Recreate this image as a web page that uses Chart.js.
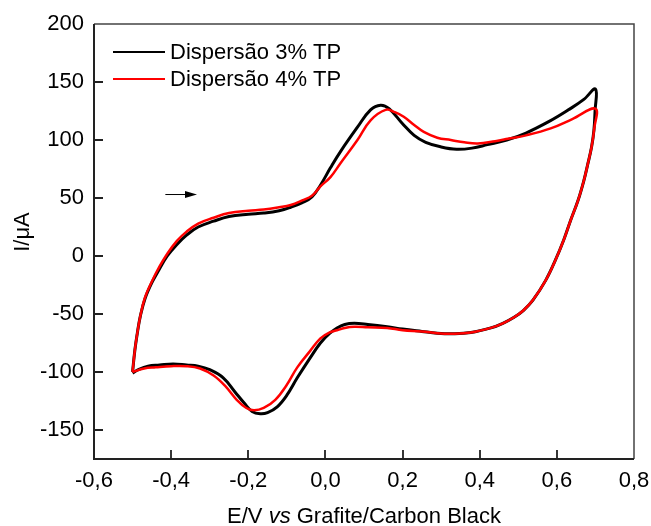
<!DOCTYPE html>
<html><head><meta charset="utf-8">
<script src="https://cdn.jsdelivr.net/npm/chart.js@4.4.0/dist/chart.umd.min.js"></script>
<style>html,body{margin:0;padding:0;background:#fff;}#wrap{width:651px;height:526px;}</style>
</head><body><div id="wrap"><canvas id="c" width="651" height="526"></canvas></div>
<script>
// Dispersão 3% TP (black): anodic sweep then cathodic sweep
const tp3Potential = [-0.5,-0.494,-0.487,-0.48,-0.468,-0.45,-0.43,-0.41,-0.385,-0.36,-0.33,-0.29,-0.25,-0.2,-0.16,-0.12,-0.09,-0.06,-0.035,-0.013,0.013,0.039,0.083,0.117,0.143,0.165,0.2,0.23,0.26,0.3,0.34,0.38,0.42,0.47,0.52,0.58,0.63,0.67,0.7,
  0.699,0.696,0.69,0.68,0.67,0.655,0.636,0.618,0.597,0.571,0.538,0.513,0.488,0.46,0.429,0.377,0.33,0.29,0.25,0.2,0.16,0.11,0.075,0.05,0.03,0.01,-0.013,-0.04,-0.073,-0.1,-0.125,-0.15,-0.169,-0.19,-0.21,-0.235,-0.265,-0.3,-0.33,-0.36,-0.395,-0.43,-0.46,-0.485,-0.5];
const tp3Current = [-100,-81,-65,-52,-37,-23,-11,0,10,18,25,30,34,36,37,39,42,46,51,61,76,90,111,126,130,127,114,104,98,94,92,93,96,100,106,116,126,135,144,
  125,108,94,79,65,48,31,14,-3,-21,-38,-47,-53,-58,-62,-66,-67,-66.5,-65,-63,-61,-59,-58,-59,-62,-67,-75,-88,-105,-120,-130,-135,-136,-134,-127,-117,-105,-98,-95,-94,-93,-94,-95,-98,-101];
// Dispersão 4% TP (red)
const tp4Potential = [-0.5,-0.494,-0.487,-0.48,-0.468,-0.45,-0.43,-0.41,-0.385,-0.36,-0.33,-0.29,-0.25,-0.2,-0.16,-0.12,-0.09,-0.06,-0.035,-0.013,0.013,0.039,0.083,0.117,0.156,0.18,0.203,0.23,0.255,0.29,0.325,0.36,0.395,0.44,0.473,0.52,0.584,0.64,0.7,
  0.697,0.69,0.68,0.67,0.655,0.636,0.618,0.597,0.571,0.538,0.513,0.488,0.46,0.429,0.377,0.33,0.29,0.25,0.2,0.16,0.11,0.075,0.05,0.03,0.01,-0.013,-0.04,-0.073,-0.1,-0.13,-0.16,-0.185,-0.205,-0.23,-0.26,-0.29,-0.325,-0.36,-0.4,-0.44,-0.47,-0.5];
const tp4Current = [-100,-81,-65,-52,-36,-22,-9,2,13,21,28,33,37,39,40,42,44,48,52,60,68,80,100,117,126,124,120,113,107,102,100,98,97,99,101,104,110,118,127,
  110,94,79,65,48,31,14,-3,-21,-38,-47,-53,-58,-62,-66,-67,-66.5,-65,-64,-62,-61.5,-61,-62,-64,-66,-71,-82,-96,-111,-124,-131,-133,-131,-124,-112,-103,-97,-95,-95,-96,-97,-100];

const seriesLabels = ['Dispersão 3% TP', 'Dispersão 4% TP'];
const seriesColors = ['#000000', '#ff0000'];
const xTickValues = [-0.6,-0.4,-0.2,0,0.2,0.4,0.6,0.8];
const yTickValues = [-150,-100,-50,0,50,100,150,200];
const xAxisTitle = [['E/V ', 'normal'], ['vs', 'italic'], [' Grafite/Carbon Black', 'normal']];
const yAxisTitle = 'I/μA';
const scanArrow = [[-0.415, 53], [-0.333, 53]];

const FONT = '"Liberation Sans", Arial, sans-serif';
const toPts = (xs, ys) => xs.map((x, i) => ({x: x, y: ys[i]}));

const decorPlugin = {
  id: 'decor',
  afterDraw(chart) {
    const ctx = chart.ctx, a = chart.chartArea;
    const xs = chart.scales.x, ys = chart.scales.y;
    ctx.save();
    // frame
    ctx.strokeStyle = '#444'; ctx.lineWidth = 1.5;
    ctx.beginPath();
    ctx.moveTo(a.left, a.top); ctx.lineTo(a.right, a.top); ctx.lineTo(a.right, a.bottom);
    ctx.stroke();
    ctx.strokeStyle = '#222'; ctx.lineWidth = 2;
    ctx.beginPath();
    ctx.moveTo(a.left, a.top); ctx.lineTo(a.left, a.bottom); ctx.lineTo(a.right, a.bottom);
    ctx.stroke();
    // inward ticks
    ctx.lineWidth = 1.8;
    ctx.beginPath();
    xs.ticks.forEach(t => {
      const px = Math.round(xs.getPixelForValue(t.value));
      if (px > a.left + 2 && px < a.right - 2) { ctx.moveTo(px, a.bottom); ctx.lineTo(px, a.bottom - 9); }
    });
    ys.ticks.forEach(t => {
      const py = Math.round(ys.getPixelForValue(t.value));
      if (py > a.top + 2 && py < a.bottom - 2) { ctx.moveTo(a.left, py); ctx.lineTo(a.left + 9, py); }
    });
    ctx.stroke();
    // scan arrow
    const ax0 = xs.getPixelForValue(scanArrow[0][0]), ay0 = ys.getPixelForValue(scanArrow[0][1]);
    const ax1 = xs.getPixelForValue(scanArrow[1][0]), ay1 = ys.getPixelForValue(scanArrow[1][1]);
    ctx.strokeStyle = '#000'; ctx.fillStyle = '#000'; ctx.lineWidth = 1;
    ctx.beginPath(); ctx.moveTo(ax0, ay0); ctx.lineTo(ax1 - 8, ay1); ctx.stroke();
    ctx.beginPath(); ctx.moveTo(ax1, ay1); ctx.lineTo(ax1 - 12, ay1 - 3.5); ctx.lineTo(ax1 - 12, ay1 + 3.5); ctx.closePath(); ctx.fill();
    // legend
    ctx.font = '22px ' + FONT; ctx.textBaseline = 'middle'; ctx.textAlign = 'left';
    chart.data.datasets.forEach((ds, i) => {
      const y = 52 + i * 27;
      ctx.strokeStyle = ds.borderColor; ctx.lineWidth = 2;
      ctx.beginPath(); ctx.moveTo(113, y); ctx.lineTo(165, y); ctx.stroke();
      ctx.fillStyle = '#000';
      ctx.fillText(ds.label, 170, y + 1);
    });
    // x axis title with italic "vs"
    let total = 0;
    const parts = xAxisTitle.map(([txt, st]) => {
      ctx.font = (st === 'italic' ? 'italic ' : '') + '22px ' + FONT;
      const w = ctx.measureText(txt).width; total += w; return [txt, st, w];
    });
    let cx = (a.left + a.right) / 2 - total / 2;
    ctx.textBaseline = 'alphabetic'; ctx.fillStyle = '#000';
    parts.forEach(([txt, st, w]) => {
      ctx.font = (st === 'italic' ? 'italic ' : '') + '22px ' + FONT;
      ctx.fillText(txt, cx, 523); cx += w;
    });
    // y axis title
    ctx.font = '22px ' + FONT; ctx.textAlign = 'center';
    ctx.translate(29, 232); ctx.rotate(-Math.PI / 2);
    ctx.fillText(yAxisTitle, 0, 0);
    ctx.restore();
  }
};

const tickFont = {family: FONT, size: 22};
new Chart(document.getElementById('c'), {
  type: 'scatter',
  data: {
    datasets: [
      {label: seriesLabels[0], data: toPts(tp3Potential, tp3Current), borderColor: seriesColors[0], backgroundColor: seriesColors[0], showLine: true, borderWidth: 3, pointRadius: 0, tension: 0.4, order: 2},
      {label: seriesLabels[1], data: toPts(tp4Potential, tp4Current), borderColor: seriesColors[1], backgroundColor: seriesColors[1], showLine: true, borderWidth: 2.5, pointRadius: 0, tension: 0.4, order: 1}
    ]
  },
  options: {
    responsive: false, animation: false, devicePixelRatio: 1,
    layout: {padding: {left: 0, top: 24, right: 17, bottom: 0}},
    plugins: {legend: {display: false}, tooltip: {enabled: false}},
    scales: {
      x: {
        type: 'linear', min: -0.6, max: 0.8,
        grid: {display: false, drawTicks: false}, border: {display: false},
        ticks: {font: tickFont, color: '#000', padding: 9, maxRotation: 0, autoSkip: false,
          callback: v => v.toFixed(1).replace('.', ',')},
        afterBuildTicks: s => { s.ticks = xTickValues.map(v => ({value: v})); },
        afterFit: s => { s.height = 67; s.paddingLeft = 0; s.paddingRight = 0; }
      },
      y: {
        type: 'linear', min: -175, max: 200,
        grid: {display: false, drawTicks: false}, border: {display: false},
        ticks: {font: tickFont, color: '#000', padding: 10, autoSkip: false,
          callback: v => String(v)},
        afterBuildTicks: s => { s.ticks = yTickValues.map(v => ({value: v})); },
        afterFit: s => { s.width = 94; s.paddingTop = 0; s.paddingBottom = 0; }
      }
    }
  },
  plugins: [decorPlugin]
});
</script></body></html>
